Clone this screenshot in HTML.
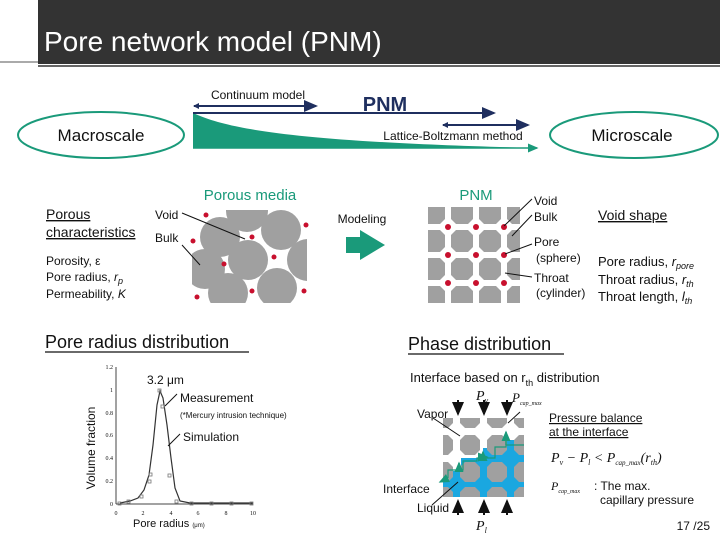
<!DOCTYPE html>
<html><head><meta charset="utf-8"><style>
body{margin:0;width:720px;height:540px;background:#fff;overflow:hidden;font-family:"Liberation Sans","DejaVu Sans",sans-serif;}
svg{position:absolute;left:0;top:0}
</style></head><body>
<svg width="720" height="540" viewBox="0 0 720 540" font-family="Liberation Sans, DejaVu Sans, sans-serif">
<defs>
<marker id="ah" markerWidth="8" markerHeight="8" refX="6" refY="4" orient="auto"><path d="M0,1 L7,4 L0,7 Z" fill="#1f2f5f"/></marker>
<marker id="ab" markerWidth="8" markerHeight="8" refX="6" refY="4" orient="auto"><path d="M0,1 L7,4 L0,7 Z" fill="#111"/></marker>
<marker id="ag" markerWidth="8" markerHeight="8" refX="6" refY="4" orient="auto"><path d="M0,1 L7,4 L0,7 Z" fill="#1a9a7a"/></marker>
<clipPath id="c1"><rect x="428" y="207" width="92" height="96"/></clipPath>
<clipPath id="c2"><rect x="443" y="418" width="81" height="79"/></clipPath>
<clipPath id="c3"><rect x="192" y="210" width="115" height="93"/></clipPath>
</defs>
<rect x="38" y="0" width="682" height="64" fill="#333"/>
<line x1="0" x2="38" y1="62" y2="62" stroke="#555"/>
<line x1="38" x2="720" y1="66" y2="66" stroke="#333" stroke-width="1.5"/>
<text x="44" y="51" font-size="28" fill="#fff">Pore network model (PNM)</text>
<ellipse cx="101" cy="135" rx="83" ry="23" fill="none" stroke="#1a9a7a" stroke-width="2"/>
<text x="101" y="141" font-size="17" text-anchor="middle" fill="#111">Macroscale</text>
<ellipse cx="634" cy="135" rx="84" ry="23" fill="none" stroke="#1a9a7a" stroke-width="2"/>
<text x="632" y="141" font-size="17" text-anchor="middle" fill="#111">Microscale</text>
<path d="M193,113 C230,130 300,142 535,148 L193,148 Z" fill="#1a9a7a"/>
<line x1="193" y1="148" x2="537" y2="148" stroke="#1a9a7a" stroke-width="1.5" marker-end="url(#ag)"/>
<text x="258" y="99" font-size="12" text-anchor="middle" fill="#111">Continuum model</text>
<line x1="194" y1="106" x2="316" y2="106" stroke="#1f2f5f" stroke-width="2" marker-end="url(#ah)"/>
<path d="M193,106 L199,103 L199,109 Z" fill="#1f2f5f"/>
<line x1="193" y1="113" x2="494" y2="113" stroke="#1f2f5f" stroke-width="2" marker-end="url(#ah)"/>
<text x="385" y="111" font-size="20" font-weight="bold" text-anchor="middle" fill="#1f2f5f">PNM</text>
<line x1="443" y1="125" x2="528" y2="125" stroke="#1f2f5f" stroke-width="2" marker-end="url(#ah)"/>
<path d="M442,125 L448,122 L448,128 Z" fill="#1f2f5f"/>
<text x="453" y="140" font-size="12" text-anchor="middle" fill="#111">Lattice-Boltzmann method</text>
<text x="46" y="219" font-size="14" fill="#111" text-decoration="underline">Porous</text>
<text x="46" y="237" font-size="14" fill="#111" text-decoration="underline">characteristics</text>
<text x="46" y="265" font-size="12" fill="#111">Porosity, ε</text>
<text x="46" y="281" font-size="12" fill="#111">Pore radius, <tspan font-style="italic">r</tspan><tspan font-size="9" dy="3" font-style="italic">p</tspan></text>
<text x="46" y="298" font-size="12" fill="#111">Permeability, <tspan font-style="italic">K</tspan></text>
<text x="250" y="200" font-size="15" text-anchor="middle" fill="#1a9a7a">Porous media</text>
<text x="155" y="219" font-size="12" fill="#111">Void</text>
<text x="155" y="242" font-size="12" fill="#111">Bulk</text>
<g clip-path="url(#c3)" fill="#a0a0a0">
<circle cx="247" cy="211" r="21"/>
<circle cx="220" cy="237" r="20"/>
<circle cx="281" cy="230" r="20"/>
<circle cx="248" cy="260" r="20"/>
<circle cx="308" cy="260" r="21"/>
<circle cx="205" cy="269" r="20"/>
<circle cx="228" cy="293" r="20"/>
<circle cx="277" cy="288" r="20"/>
</g>
<g fill="#c8102e"><circle cx="206" cy="215" r="2.5"/><circle cx="306" cy="225" r="2.5"/><circle cx="193" cy="241" r="2.5"/><circle cx="252" cy="237" r="2.5"/><circle cx="224" cy="264" r="2.5"/><circle cx="274" cy="257" r="2.5"/><circle cx="197" cy="297" r="2.5"/><circle cx="252" cy="291" r="2.5"/><circle cx="304" cy="291" r="2.5"/></g>
<line x1="182" y1="213" x2="245" y2="239" stroke="#111"/>
<line x1="182" y1="245" x2="200" y2="265" stroke="#111"/>
<text x="362" y="223" font-size="12" text-anchor="middle" fill="#111">Modeling</text>
<path d="M346,237 L360,237 L360,230 L385,245 L360,260 L360,253 L346,253 Z" fill="#1a9a7a"/>
<text x="476" y="200" font-size="15" text-anchor="middle" fill="#1a9a7a">PNM</text>
<g clip-path="url(#c1)">
<g fill="#a0a0a0">
<path id="o" d="M-11,-6 L-6,-11 L6,-11 L11,-6 L11,6 L6,11 L-6,11 L-11,6 Z" transform="translate(434,213)"/>
<use href="#o" x="28"/><use href="#o" x="56"/><use href="#o" x="84"/>
<use href="#o" y="28"/><use href="#o" x="28" y="28"/><use href="#o" x="56" y="28"/><use href="#o" x="84" y="28"/>
<use href="#o" y="56"/><use href="#o" x="28" y="56"/><use href="#o" x="56" y="56"/><use href="#o" x="84" y="56"/>
<use href="#o" y="84"/><use href="#o" x="28" y="84"/><use href="#o" x="56" y="84"/><use href="#o" x="84" y="84"/>
</g>
</g>
<g fill="#c8102e"><circle cx="448" cy="227" r="3"/><circle cx="476" cy="227" r="3"/><circle cx="504" cy="227" r="3"/><circle cx="448" cy="255" r="3"/><circle cx="476" cy="255" r="3"/><circle cx="504" cy="255" r="3"/><circle cx="448" cy="283" r="3"/><circle cx="476" cy="283" r="3"/><circle cx="504" cy="283" r="3"/></g>
<g stroke="#111" fill="none"><line x1="504" y1="226" x2="532" y2="199"/><line x1="512" y1="236" x2="532" y2="215"/><line x1="505" y1="254" x2="532" y2="244"/><line x1="505" y1="273" x2="532" y2="277"/></g>
<g font-size="12" fill="#111"><text x="534" y="205">Void</text><text x="534" y="221">Bulk</text><text x="534" y="246">Pore</text><text x="536" y="262">(sphere)</text><text x="534" y="282">Throat</text><text x="536" y="297">(cylinder)</text></g>
<text x="598" y="220" font-size="14" fill="#111" text-decoration="underline">Void shape</text>
<g font-size="13" fill="#111"><text x="598" y="266">Pore radius, <tspan font-style="italic">r</tspan><tspan font-size="9" dy="3" font-style="italic">pore</tspan></text>
<text x="598" y="284">Throat radius, <tspan font-style="italic">r</tspan><tspan font-size="9" dy="3" font-style="italic">th</tspan></text>
<text x="598" y="301">Throat length, <tspan font-style="italic">l</tspan><tspan font-size="9" dy="3" font-style="italic">th</tspan></text></g>
<text x="45" y="348" font-size="18" fill="#111">Pore radius distribution</text>
<line x1="45" y1="352" x2="249" y2="352" stroke="#111" stroke-width="1.3"/>
<text transform="translate(95,448) rotate(-90)" font-size="12" text-anchor="middle" fill="#111">Volume fraction</text>
<g stroke="#444" stroke-width="1" fill="none"><line x1="116" y1="367" x2="116" y2="504"/><line x1="116" y1="504" x2="253" y2="504"/></g>
<g font-size="6" fill="#111" font-family="Liberation Serif, serif" text-anchor="end"><text x="113" y="369">1.2</text><text x="113" y="392">1</text><text x="113" y="415">0.8</text><text x="113" y="437">0.6</text><text x="113" y="460">0.4</text><text x="113" y="483">0.2</text><text x="113" y="506">0</text></g>
<g font-size="6" fill="#111" font-family="Liberation Serif, serif" text-anchor="middle"><text x="116" y="515">0</text><text x="143" y="515">2</text><text x="171" y="515">4</text><text x="198" y="515">6</text><text x="226" y="515">8</text><text x="253" y="515">10</text></g>
<path d="M120,503 L130,501 L138,498 L144,490 L149,475 L153,445 L157,405 L160,391 L163,398 L167,425 L171,458 L175,488 L180,501 L190,503 L253,503" stroke="#333" stroke-width="1.2" fill="none"/>
<g stroke="#777" fill="none" stroke-width="0.8"><rect x="118" y="502" width="3" height="3"/><rect x="127" y="500" width="3" height="3"/><rect x="140" y="495" width="3" height="3"/><rect x="148" y="480" width="3" height="3"/><rect x="149" y="473" width="3" height="3"/><rect x="158" y="389" width="3" height="3"/><rect x="161" y="405" width="3" height="3"/><rect x="168" y="474" width="3" height="3"/><rect x="175" y="500" width="3" height="3"/><rect x="190" y="502" width="3" height="3"/><rect x="210" y="502" width="3" height="3"/><rect x="230" y="502" width="3" height="3"/><rect x="250" y="502" width="3" height="3"/></g>
<text x="147" y="384" font-size="12" fill="#111">3.2 μm</text>
<line x1="165" y1="406" x2="177" y2="394" stroke="#111"/>
<text x="180" y="402" font-size="12" fill="#111">Measurement</text>
<text x="180" y="418" font-size="8" fill="#111">(*Mercury intrusion technique)</text>
<line x1="168" y1="446" x2="180" y2="434" stroke="#111"/>
<text x="183" y="441" font-size="12" fill="#111">Simulation</text>
<text x="133" y="527" font-size="11" fill="#111">Pore radius <tspan font-size="6">(μm)</tspan></text>
<text x="408" y="350" font-size="18" fill="#111">Phase distribution</text>
<line x1="408" y1="354" x2="564" y2="354" stroke="#111" stroke-width="1.3"/>
<text x="410" y="382" font-size="13" fill="#111">Interface based on r<tspan font-size="9" dy="4">th</tspan><tspan dy="-4"> distribution</tspan></text>
<g clip-path="url(#c2)">
<path d="M443,471 L461,471 L461,458 L483,458 L483,448 L503,448 L503,440 L524,440 L524,497 L443,497 Z" fill="#1aa7e0"/>
<g fill="#a0a0a0">
<path id="q" d="M-10,-5 L-5,-10 L5,-10 L10,-5 L10,5 L5,10 L-5,10 L-10,5 Z" transform="translate(443,418)"/>
<use href="#q" x="27"/><use href="#q" x="54"/><use href="#q" x="81"/>
<use href="#q" y="27"/><use href="#q" x="27" y="27"/><use href="#q" x="54" y="27"/><use href="#q" x="81" y="27"/>
<use href="#q" y="54"/><use href="#q" x="27" y="54"/><use href="#q" x="54" y="54"/><use href="#q" x="81" y="54"/>
<use href="#q" y="79"/><use href="#q" x="27" y="79"/><use href="#q" x="54" y="79"/><use href="#q" x="81" y="79"/>
</g>
</g>
<path d="M448,478 L448,470 L463,470 L463,461 L477,461 L477,458 L495,458 L495,447 L506,447 L506,445 L524,445" stroke="#1a9a7a" stroke-width="1.2" fill="none"/>
<g stroke="#1a9a7a" stroke-width="1.5"><line x1="506" y1="445" x2="506" y2="432" marker-end="url(#ag)"/><line x1="483" y1="459" x2="483" y2="452" marker-end="url(#ag)"/><line x1="459" y1="470" x2="459" y2="463" marker-end="url(#ag)"/><line x1="482" y1="457" x2="487" y2="457" marker-end="url(#ag)"/><line x1="446" y1="479" x2="440" y2="482" marker-end="url(#ag)"/></g>
<g stroke="#111" stroke-width="2"><line x1="458" y1="400" x2="458" y2="414" marker-end="url(#ab)"/><line x1="484" y1="400" x2="484" y2="414" marker-end="url(#ab)"/><line x1="507" y1="400" x2="507" y2="414" marker-end="url(#ab)"/><line x1="458" y1="515" x2="458" y2="501" marker-end="url(#ab)"/><line x1="484" y1="515" x2="484" y2="501" marker-end="url(#ab)"/><line x1="507" y1="515" x2="507" y2="501" marker-end="url(#ab)"/></g>
<text x="476" y="400" font-size="14" font-style="italic" font-family="Liberation Serif, serif" fill="#111">P<tspan font-size="8" dy="3">v</tspan></text>
<text x="512" y="402" font-size="13" font-style="italic" font-family="Liberation Serif, serif" fill="#111">P<tspan font-size="6" dy="3">cap_max</tspan></text>
<text x="476" y="530" font-size="14" font-style="italic" font-family="Liberation Serif, serif" fill="#111">P<tspan font-size="8" dy="3">l</tspan></text>
<text x="417" y="418" font-size="12" fill="#111">Vapor</text>
<line x1="433" y1="418" x2="460" y2="436" stroke="#111"/>
<line x1="508" y1="423" x2="520" y2="412" stroke="#111"/>
<text x="383" y="493" font-size="12" fill="#111">Interface</text>
<text x="417" y="512" font-size="12" fill="#111">Liquid</text>
<line x1="432" y1="505" x2="458" y2="482" stroke="#111"/>
<text x="549" y="422" font-size="12" fill="#111" text-decoration="underline">Pressure balance</text>
<text x="549" y="436" font-size="12" fill="#111" text-decoration="underline">at the interface</text>
<text x="551" y="462" font-size="14" font-style="italic" font-family="Liberation Serif, serif" fill="#111">P<tspan font-size="8" dy="3">v</tspan><tspan dy="-3"> − P</tspan><tspan font-size="8" dy="3">l</tspan><tspan dy="-3"> &lt; P</tspan><tspan font-size="7" dy="3">cap_max</tspan><tspan dy="-3">(r</tspan><tspan font-size="8" dy="3">th</tspan><tspan dy="-3">)</tspan></text>
<text x="551" y="490" font-size="12" font-style="italic" font-family="Liberation Serif, serif" fill="#111">P<tspan font-size="6" dy="3">cap_max</tspan></text>
<text x="594" y="490" font-size="12" fill="#111">: The max.</text>
<text x="600" y="504" font-size="12" fill="#111">capillary pressure</text>
<text x="710" y="530" font-size="12" text-anchor="end" fill="#111">17 /25</text>
</svg>
</body></html>
